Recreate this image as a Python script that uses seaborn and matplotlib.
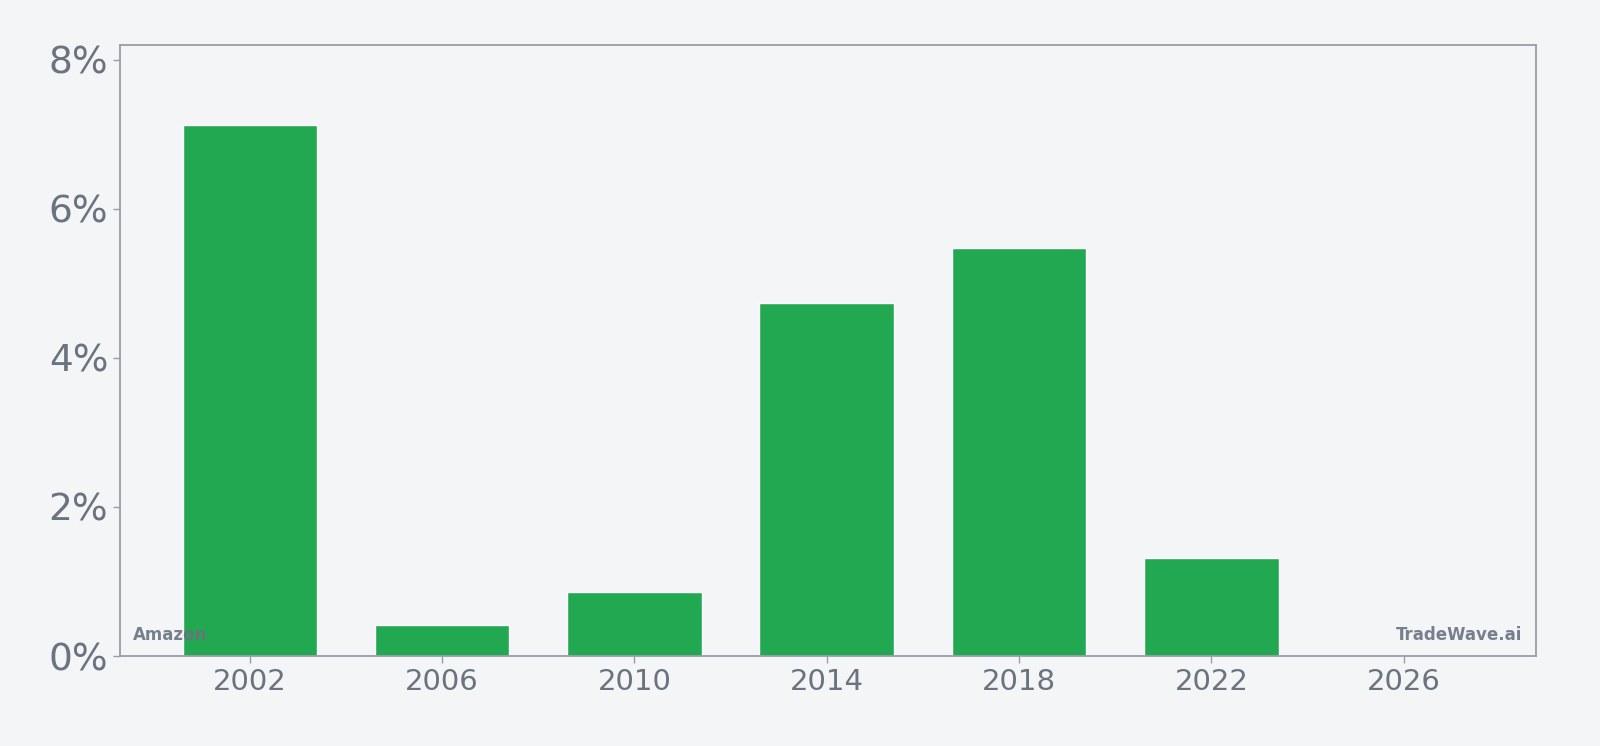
import matplotlib
matplotlib.use("Agg")
import matplotlib.pyplot as plt
from matplotlib.ticker import FuncFormatter
import pandas as pd
import seaborn as sns

# data
years = [2002, 2006, 2010, 2014, 2018, 2022, 2026]
growth = [7.13, 0.42, 0.86, 4.74, 5.48, 1.31, 0.0]

bg = "#f4f5f7"
txt = "#6b7280"
edge = "#9a9ca8"
green = "#23a852"

sns.set_style("white")
plt.rcParams["font.family"] = ["DejaVu Sans"]

df = pd.DataFrame({"year": years, "growth": growth})

fig = plt.figure(figsize=(16, 7.46), dpi=100, facecolor=bg)
ax = fig.add_axes([0.075, 0.1206, 0.885, 0.8191])
ax.set_facecolor(bg)

sns.barplot(data=df, x="year", y="growth", native_scale=True, width=0.7,
            color=green, saturation=1, ax=ax, zorder=2)

ax.set_xlim(1999.3, 2028.75)
ax.set_ylim(0, 8.2)
ax.set_xticks(years)
ax.set_yticks([0, 2, 4, 6, 8])
ax.yaxis.set_major_formatter(FuncFormatter(lambda v, p: f"{v:.0f}%"))
ax.tick_params(axis="y", labelsize=27, colors=edge, labelcolor=txt, length=5, width=1, direction="out", left=True)
ax.tick_params(axis="x", labelsize=21, colors=edge, labelcolor=txt, length=5, width=1, direction="out", bottom=True)
ax.set_xlabel(None)
ax.set_ylabel(None)

for s in ax.spines.values():
    s.set_visible(True)
    s.set_color(edge)
    s.set_linewidth(1.3)

ax.text(0.009, 0.02, "Amazon", transform=ax.transAxes, fontsize=12, fontweight="bold",
        color=txt, alpha=0.9, ha="left", va="bottom", zorder=3)
ax.text(0.99, 0.02, "TradeWave.ai", transform=ax.transAxes, fontsize=12, fontweight="bold",
        color=txt, alpha=0.9, ha="right", va="bottom", zorder=3)

fig.savefig("out.png", dpi=100, facecolor=bg)
